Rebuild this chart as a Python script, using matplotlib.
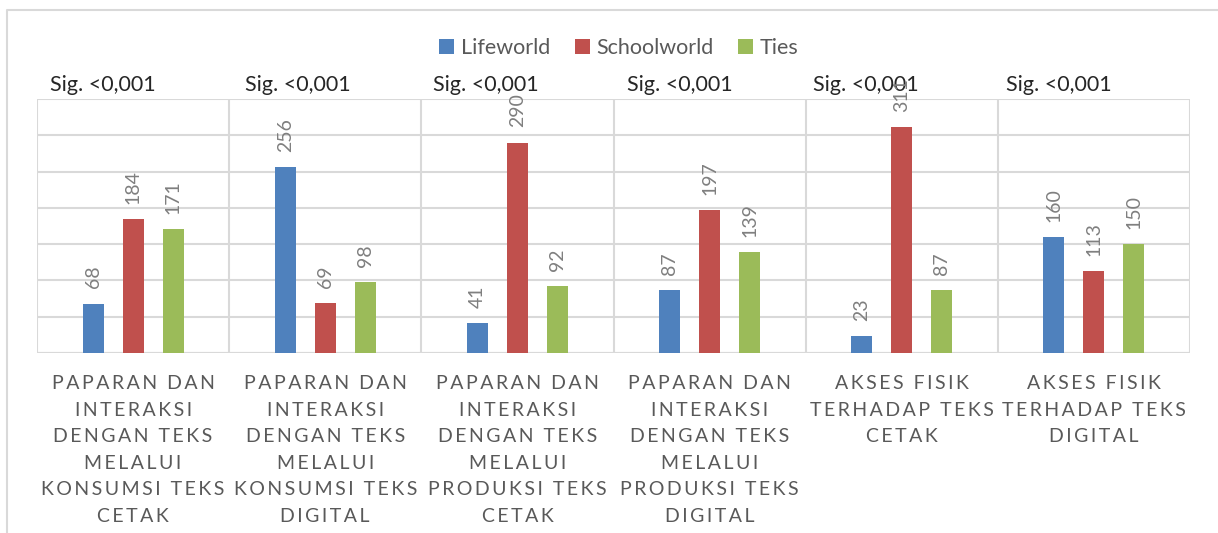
import matplotlib.pyplot as plt
import numpy as np
from matplotlib.transforms import blended_transform_factory

plt.rcParams['font.family'] = ['Lato', 'DejaVu Sans']

# data
categories = [
    "PAPARAN DAN\nINTERAKSI\nDENGAN TEKS\nMELALUI\nKONSUMSI TEKS\nCETAK",
    "PAPARAN DAN\nINTERAKSI\nDENGAN TEKS\nMELALUI\nKONSUMSI TEKS\nDIGITAL",
    "PAPARAN DAN\nINTERAKSI\nDENGAN TEKS\nMELALUI\nPRODUKSI TEKS\nCETAK",
    "PAPARAN DAN\nINTERAKSI\nDENGAN TEKS\nMELALUI\nPRODUKSI TEKS\nDIGITAL",
    "AKSES FISIK\nTERHADAP TEKS\nCETAK",
    "AKSES FISIK\nTERHADAP TEKS\nDIGITAL",
]
lifeworld = [68, 256, 41, 87, 23, 160]
schoolworld = [184, 69, 290, 197, 311, 113]
ties = [171, 98, 92, 139, 87, 150]
series_names = ['Lifeworld', 'Schoolworld', 'Ties']
sig_labels = ['Sig. <0,001'] * 6

colors = ['#4F81BD', '#C0504D', '#9BBB59']
grid_c = '#D9D9D9'


def spaced(text):
    # wide letter spacing like the original axis labels
    lines = []
    for line in text.split('\n'):
        words = ['\u2009'.join(w) for w in line.split(' ')]
        lines.append('\u2009 \u2009'.join(words))
    return '\n'.join(lines)


fig = plt.figure(figsize=(12.18, 5.33), dpi=100)
ax = fig.add_axes([37 / 1218, 1 - 353 / 533, (1190 - 37) / 1218, (353 - 99) / 533])

x = np.arange(len(categories))
offs = [-0.208, 0, 0.208]
w = 0.109
for vals, off, c, name in zip([lifeworld, schoolworld, ties], offs, colors, series_names):
    bars = ax.bar(x + off, vals, w, color=c, label=name, zorder=3)
    for b, v in zip(bars, vals):
        ax.annotate(str(v), (b.get_x() + b.get_width() / 2, v), xytext=(0, 11),
                    textcoords='offset points', rotation=90, ha='center', va='bottom',
                    fontsize=14, color='#7F7F7F', zorder=4)

ax.set_xlim(-0.5, len(categories) - 0.5)
ax.set_ylim(0, 350)
ax.set_yticks(np.arange(0, 351, 50))
ax.yaxis.grid(True, color=grid_c, lw=1.5, zorder=0)
for xv in np.arange(-0.5, len(categories), 1):
    ax.axvline(xv, color=grid_c, lw=1.5, zorder=0)
ax.tick_params(axis='y', left=False, labelleft=False)
for s in ax.spines.values():
    s.set_visible(False)
ax.axhline(0, color=grid_c, lw=1.5, zorder=2)

ax.set_xticks(x)
ax.set_xticklabels([spaced(c) for c in categories], fontsize=14, color='#595959',
                   linespacing=1.68)
ax.tick_params(axis='x', length=0, pad=16)

# significance labels above each group
tr = blended_transform_factory(ax.transData, ax.transAxes)
sig_x = [-0.43, 0.58, 1.56, 2.57, 3.54, 4.54]
for sx, s in zip(sig_x, sig_labels):
    ax.text(sx, 1.057, s, transform=tr, ha='left', va='center', fontsize=15.5,
            color='#262626', zorder=1)

fig.legend(loc='center', bbox_to_anchor=(0.508, 1 - 48 / 533), ncol=3, frameon=False,
           fontsize=15.5, handlelength=0.7, handleheight=0.7, handletextpad=0.3,
           columnspacing=1.15, labelcolor='#595959')

# outer chart border (top and left edges visible)
fig.add_artist(plt.Line2D([7 / 1218, 7 / 1218, 1], [0, 1 - 10 / 533, 1 - 10 / 533],
                          transform=fig.transFigure, color=grid_c, lw=1.5))

fig.savefig('out.png', dpi=100)
